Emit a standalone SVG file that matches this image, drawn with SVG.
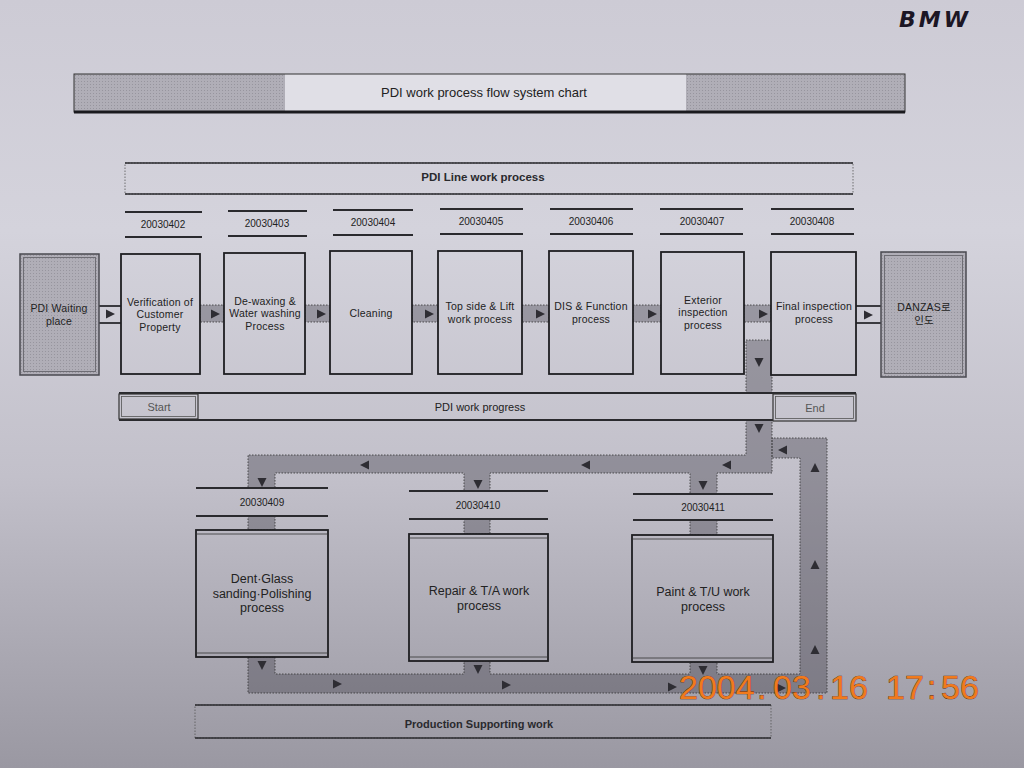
<svg xmlns="http://www.w3.org/2000/svg" xmlns:xlink="http://www.w3.org/1999/xlink" width="1024" height="768" viewBox="0 0 1024 768">
<defs>
<linearGradient id="bg" gradientUnits="userSpaceOnUse" x1="0" y1="0" x2="0" y2="768">
<stop offset="0" stop-color="#cdcbd5"/>
<stop offset="0.3" stop-color="#d4d3dc"/>
<stop offset="0.62" stop-color="#c2c0ca"/>
<stop offset="1" stop-color="#9a98a2"/>
</linearGradient>
<pattern id="dots" width="3" height="3" patternUnits="userSpaceOnUse">
<rect width="3" height="3" fill="#b0aeb7"/>
<rect width="1" height="1" fill="#97959e"/>
</pattern>
<path id="aR" d="M-4,-4.5 L5,0 L-4,4.5 Z" fill="#2e2d33"/>
<path id="aL" d="M4,-4.5 L-5,0 L4,4.5 Z" fill="#2e2d33"/>
<path id="aD" d="M-4.5,-4 L4.5,-4 L0,5 Z" fill="#2e2d33"/>
<path id="aU" d="M-4.5,4 L4.5,4 L0,-5 Z" fill="#2e2d33"/>
</defs>
<style>
text{font-family:"Liberation Sans","Noto Sans CJK KR",sans-serif;fill:#222;text-anchor:middle;dominant-baseline:central}
.t{font-size:10.5px;letter-spacing:0.2px}
.d{font-size:10px}
.b{font-size:12.5px}
.box{fill:url(#bg);stroke:#1e1e22;stroke-width:1.8}
.gbox{fill:url(#dots);stroke:#4a4950;stroke-width:1.5}
.gin{fill:none;stroke:#6e6d74;stroke-width:1}
.band{fill:#3a3842;fill-opacity:0.36;stroke:#333;stroke-width:0.8;stroke-dasharray:1.5 1.5}
.rule{stroke:#2a2a2e;stroke-width:1.8}
.lab{fill:url(#bg)}
</style>
<rect width="1024" height="768" fill="url(#bg)"/>

<g id="title">
<rect x="74" y="74" width="831" height="38" fill="#e0dfe6"/>
<rect x="74" y="74" width="211" height="38" fill="url(#dots)"/>
<rect x="686" y="74" width="219" height="38" fill="url(#dots)"/>
<rect x="74" y="74" width="831" height="38" fill="none" stroke="#333" stroke-width="1"/>
<line x1="74" y1="112" x2="905" y2="112" stroke="#1a1a1e" stroke-width="3"/>
<text x="484" y="92" style="font-size:13px">PDI work process flow system chart</text>
</g>

<g id="line-header">
<rect x="125" y="163" width="728" height="31" fill="url(#bg)" stroke="#555" stroke-width="0.8" stroke-dasharray="1.5 1.5"/>
<line x1="125" y1="163" x2="853" y2="163" stroke="#2a2a2e" stroke-width="1.5"/>
<line x1="125" y1="194" x2="853" y2="194" stroke="#2a2a2e" stroke-width="1.5"/>
<text x="483" y="177" style="font-size:11.5px;font-weight:bold;fill:#2a2a2e">PDI Line work process</text>
</g>

<g id="dates-top">
<g><line class="rule" x1="125" y1="212" x2="202" y2="212"/><line class="rule" x1="125" y1="237" x2="202" y2="237"/><text class="d" x="163" y="224">20030402</text></g>
<g><line class="rule" x1="228" y1="211" x2="307" y2="211"/><line class="rule" x1="228" y1="236" x2="307" y2="236"/><text class="d" x="267" y="223">20030403</text></g>
<g><line class="rule" x1="333" y1="210" x2="413" y2="210"/><line class="rule" x1="333" y1="235" x2="413" y2="235"/><text class="d" x="373" y="222">20030404</text></g>
<g><line class="rule" x1="440" y1="209" x2="523" y2="209"/><line class="rule" x1="440" y1="234" x2="523" y2="234"/><text class="d" x="481" y="221">20030405</text></g>
<g><line class="rule" x1="550" y1="209" x2="633" y2="209"/><line class="rule" x1="550" y1="234" x2="633" y2="234"/><text class="d" x="591" y="221">20030406</text></g>
<g><line class="rule" x1="660" y1="209" x2="743" y2="209"/><line class="rule" x1="660" y1="234" x2="743" y2="234"/><text class="d" x="702" y="221">20030407</text></g>
<g><line class="rule" x1="771" y1="209" x2="854" y2="209"/><line class="rule" x1="771" y1="234" x2="854" y2="234"/><text class="d" x="812" y="221">20030408</text></g>
</g>

<g id="connectors">
<rect x="98" y="306" width="23" height="17" fill="url(#bg)"/>
<line class="rule" x1="98" y1="306" x2="121" y2="306"/><line class="rule" x1="98" y1="323" x2="121" y2="323"/>
<use xlink:href="#aR" x="110" y="314"/>
<rect class="band" x="200" y="305" width="24" height="17"/><use xlink:href="#aR" x="215" y="314"/>
<rect class="band" x="305" y="305" width="25" height="17"/><use xlink:href="#aR" x="321" y="314"/>
<rect class="band" x="412" y="305" width="26" height="17"/><use xlink:href="#aR" x="429" y="314"/>
<rect class="band" x="522" y="305" width="27" height="17"/><use xlink:href="#aR" x="540" y="314"/>
<rect class="band" x="633" y="305" width="28" height="17"/><use xlink:href="#aR" x="652" y="314"/>
<rect class="band" x="744" y="305" width="27" height="17"/><use xlink:href="#aR" x="763" y="314"/>
<rect x="856" y="306" width="25" height="17" fill="url(#bg)"/>
<line class="rule" x1="856" y1="306" x2="881" y2="306"/><line class="rule" x1="856" y1="323" x2="881" y2="323"/>
<use xlink:href="#aR" x="868" y="315"/>
<path class="band" d="M746,340 H772 V473 H717 V535 H690 V473 H490 V534 H464 V473 H275 V530 H248 V455 H746 Z"/>
<use xlink:href="#aD" x="759" y="362"/>
<use xlink:href="#aD" x="759" y="428"/>
<use xlink:href="#aL" x="365" y="465"/>
<use xlink:href="#aL" x="586" y="465"/>
<use xlink:href="#aL" x="727" y="465"/>
<use xlink:href="#aD" x="262" y="482"/>
<use xlink:href="#aD" x="478" y="484"/>
<use xlink:href="#aD" x="703" y="485"/>
<path class="band" d="M248,657 H275 V674 H464 V661 H490 V674 H690 V662 H717 V674 H800 V458 H772 V438 H827 V693 H248 Z"/>
<use xlink:href="#aD" x="262" y="665"/>
<use xlink:href="#aD" x="478" y="669"/>
<use xlink:href="#aD" x="703" y="670"/>
<use xlink:href="#aR" x="337" y="684"/>
<use xlink:href="#aR" x="506" y="685"/>
<use xlink:href="#aR" x="672" y="687"/>
<use xlink:href="#aR" x="781" y="688"/>
<use xlink:href="#aU" x="815" y="650"/>
<use xlink:href="#aU" x="815" y="565"/>
<use xlink:href="#aU" x="815" y="468"/>
<use xlink:href="#aL" x="783" y="450"/>
</g>

<g id="n-waiting">
<rect class="gbox" x="20" y="254" width="79" height="121"/>
<rect class="gin" x="23.5" y="257.5" width="72" height="114"/>
<text class="t" x="59" y="308">PDI Waiting</text>
<text class="t" x="59" y="321">place</text>
</g>
<g id="n-verification">
<rect class="box" x="121" y="254" width="79" height="120"/>
<text class="t" x="160" y="302">Verification of</text>
<text class="t" x="160" y="314">Customer</text>
<text class="t" x="160" y="327">Property</text>
</g>
<g id="n-dewaxing">
<rect class="box" x="224" y="253" width="81" height="121"/>
<text class="t" x="265" y="301">De-waxing &amp;</text>
<text class="t" x="265" y="313">Water washing</text>
<text class="t" x="265" y="326">Process</text>
</g>
<g id="n-cleaning">
<rect class="box" x="330" y="251" width="82" height="123"/>
<text class="t" x="371" y="313">Cleaning</text>
</g>
<g id="n-topside">
<rect class="box" x="438" y="251" width="84" height="123"/>
<text class="t" x="480" y="306">Top side &amp; Lift</text>
<text class="t" x="480" y="319">work process</text>
</g>
<g id="n-dis">
<rect class="box" x="549" y="251" width="84" height="123"/>
<text class="t" x="591" y="306">DIS &amp; Function</text>
<text class="t" x="591" y="319">process</text>
</g>
<g id="n-exterior">
<rect class="box" x="661" y="252" width="83" height="122"/>
<text class="t" x="703" y="300">Exterior</text>
<text class="t" x="703" y="312">inspection</text>
<text class="t" x="703" y="325">process</text>
</g>
<g id="n-final">
<rect class="box" x="771" y="252" width="85" height="123"/>
<text class="t" x="814" y="306">Final inspection</text>
<text class="t" x="814" y="319">process</text>
</g>
<g id="n-danzas">
<rect class="gbox" x="881" y="252" width="85" height="125"/>
<rect class="gin" x="884.5" y="255.5" width="78" height="118"/>
<text class="t" x="924" y="307">DANZAS로</text>
<text class="t" x="924" y="320">인도</text>
</g>

<g id="progress">
<rect x="119" y="393" width="737" height="28" fill="url(#bg)"/>
<line class="rule" x1="119" y1="393" x2="856" y2="393"/>
<line class="rule" x1="119" y1="420" x2="856" y2="420"/>
<text x="480" y="407" style="font-size:11px">PDI work progress</text>
</g>
<g id="n-start">
<rect x="119" y="394" width="79" height="25" fill="url(#bg)" stroke="#333" stroke-width="1.2"/>
<rect x="121.5" y="396.5" width="74" height="20" fill="none" stroke="#555" stroke-width="0.8"/>
<text x="159" y="407" style="font-size:11px;fill:#555">Start</text>
</g>
<g id="n-end">
<rect x="773" y="394" width="83" height="27" fill="url(#bg)" stroke="#333" stroke-width="1.2"/>
<rect x="775.5" y="396.5" width="78" height="22" fill="none" stroke="#555" stroke-width="0.8"/>
<text x="815" y="408" style="font-size:11px;fill:#555">End</text>
</g>

<g id="dates-bottom">
<g><rect class="lab" x="196" y="489" width="132" height="26"/><line class="rule" x1="196" y1="488" x2="328" y2="488"/><line class="rule" x1="196" y1="516" x2="328" y2="516"/><text class="d" x="262" y="502">20030409</text></g>
<g><rect class="lab" x="409" y="492" width="139" height="26"/><line class="rule" x1="409" y1="491" x2="548" y2="491"/><line class="rule" x1="409" y1="519" x2="548" y2="519"/><text class="d" x="478" y="505">20030410</text></g>
<g><rect class="lab" x="633" y="495" width="140" height="24"/><line class="rule" x1="633" y1="494" x2="773" y2="494"/><line class="rule" x1="633" y1="520" x2="773" y2="520"/><text class="d" x="703" y="507">20030411</text></g>
</g>

<g id="n-dent">
<rect class="box" x="196" y="530" width="132" height="127"/>
<line x1="196" y1="534" x2="328" y2="534" stroke="#333" stroke-width="0.8"/>
<line x1="196" y1="653" x2="328" y2="653" stroke="#333" stroke-width="0.8"/>
<text class="b" x="262" y="579">Dent·Glass</text>
<text class="b" x="262" y="594">sanding·Polishing</text>
<text class="b" x="262" y="608">process</text>
</g>
<g id="n-repair">
<rect class="box" x="409" y="534" width="139" height="127"/>
<line x1="409" y1="538" x2="548" y2="538" stroke="#333" stroke-width="0.8"/>
<line x1="409" y1="657" x2="548" y2="657" stroke="#333" stroke-width="0.8"/>
<text class="b" x="479" y="591">Repair &amp; T/A work</text>
<text class="b" x="479" y="606">process</text>
</g>
<g id="n-paint">
<rect class="box" x="632" y="535" width="141" height="127"/>
<line x1="632" y1="539" x2="773" y2="539" stroke="#333" stroke-width="0.8"/>
<line x1="632" y1="658" x2="773" y2="658" stroke="#333" stroke-width="0.8"/>
<text class="b" x="703" y="592">Paint &amp; T/U work</text>
<text class="b" x="703" y="607">process</text>
</g>

<g id="support">
<rect x="195" y="705" width="576" height="33" fill="url(#bg)" stroke="#555" stroke-width="0.8" stroke-dasharray="1.5 1.5"/>
<line x1="195" y1="705" x2="771" y2="705" stroke="#2a2a2e" stroke-width="1.5"/>
<line x1="195" y1="738" x2="771" y2="738" stroke="#2a2a2e" stroke-width="1.5"/>
<text x="479" y="724" style="font-size:11px;font-weight:bold;fill:#2a2a2e">Production Supporting work</text>
</g>

<g id="annotations">
<text x="935" y="19" style="font-family:'DejaVu Sans',sans-serif;font-size:22px;font-weight:bold;font-style:italic;letter-spacing:3px;fill:#1c1624">BMW</text>
<text y="687" style="font-size:34px;fill:#f07a1c;stroke:#5a2a0e;stroke-width:0.7;paint-order:stroke;text-anchor:start"><tspan x="679">2004</tspan><tspan x="757">.</tspan><tspan x="773">03</tspan><tspan x="816">.</tspan><tspan x="830">16</tspan><tspan x="886">17</tspan><tspan x="927">:</tspan><tspan x="941">56</tspan></text>
</g>
</svg>
